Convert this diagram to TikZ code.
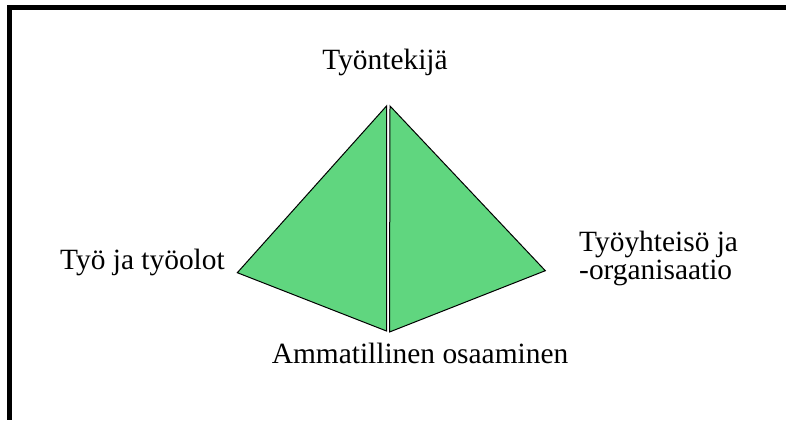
\documentclass[tikz,border=0pt]{standalone}
\usepackage{fontspec}
\setmainfont{Liberation Serif}
\usetikzlibrary{positioning}
\definecolor{PyrGreen}{HTML}{60D67F}

\begin{document}
\begin{tikzpicture}[x=1pt,y=-1pt,
 face/.style={draw=black,fill=PyrGreen,line width=1pt,line join=miter},
 lab/.style={inner sep=0pt,font=\fontsize{29.4}{28}\selectfont,align=left}]
\useasboundingbox (0,0) rectangle (786,420);
\draw[line width=4.5pt] (786,7.3) -- (9.6,7.3) -- (9.6,420);
% pyramid corners
\coordinate (ltop) at (386.5,106);
\coordinate (lbot) at (386.5,331);
\coordinate (lcorner) at (237.3,272.7);
\coordinate (rtop) at (390,106);
\coordinate (rbot) at (389.5,332);
\coordinate (rcorner) at (545.3,270.7);
\draw[face] (ltop) -- (lcorner) -- (lbot) -- cycle;
\draw[face] (rtop) -- (rcorner) -- (rbot) -- cycle;
% labels
\node[lab,anchor=base] (worker) at (385,70) {Työntekijä};
\node[lab,anchor=base west] (work) at (60,269) {Työ ja työolot};
\node[lab,anchor=base west] (community) at (579,279) {Työyhteisö ja\\-organisaatio};
\node[lab,anchor=base] (skills) at (420,363) {Ammatillinen osaaminen};
\end{tikzpicture}
\end{document}
